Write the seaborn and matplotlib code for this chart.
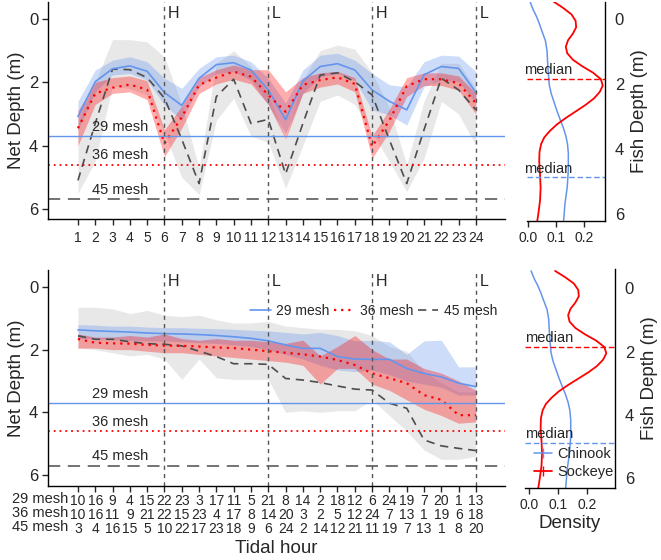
import numpy as np
import matplotlib
matplotlib.use("Agg")
import matplotlib.pyplot as plt
from matplotlib.lines import Line2D
import seaborn as sns

# ---- data ----
hours = list(range(1, 25))

# top panel: depth by tidal hour, per mesh size (median line + band)
top_29 = [3.08, 1.98, 1.57, 1.48, 1.65, 2.32, 2.73, 1.87, 1.44, 1.38, 1.61, 2.24,
          3.18, 1.96, 1.50, 1.41, 1.61, 2.24, 2.60, 2.87, 1.76, 1.50, 1.56, 2.32]
top_29_lo = [2.60, 1.61, 1.30, 1.19, 1.35, 1.87, 2.19, 1.56, 1.19, 1.14, 1.35, 1.87,
             2.66, 1.61, 1.14, 1.08, 1.30, 1.72, 2.08, 2.14, 1.35, 1.14, 1.17, 1.66]
top_29_hi = [3.50, 2.30, 1.77, 1.72, 1.93, 2.72, 3.19, 2.14, 1.72, 1.66, 1.93, 2.72,
             3.61, 2.35, 1.82, 1.72, 1.93, 2.87, 3.03, 3.35, 2.14, 1.93, 1.98, 2.66]

top_36 = [3.45, 2.35, 2.17, 2.07, 2.23, 3.93, 3.10, 2.08, 1.85, 1.66, 1.82, 2.40,
          2.93, 2.08, 1.93, 1.84, 2.05, 4.03, 3.20, 2.12, 1.90, 1.90, 2.03, 2.66]
top_36_lo = [2.90, 2.00, 1.85, 1.80, 1.95, 3.50, 2.75, 1.85, 1.60, 1.45, 1.60, 1.60,
             2.30, 1.85, 1.70, 1.65, 1.85, 3.70, 2.85, 1.85, 1.70, 1.70, 1.80, 2.35]
top_36_hi = [4.00, 2.70, 2.35, 2.30, 2.55, 4.35, 3.45, 2.35, 2.05, 1.90, 2.05, 2.70,
             3.80, 2.35, 2.15, 2.05, 2.30, 4.40, 3.55, 2.45, 2.10, 2.10, 2.25, 3.00]

top_45 = [5.10, 3.30, 1.58, 1.60, 1.85, 2.50, 3.80, 5.20, 2.45, 1.90, 3.30, 3.17,
          4.90, 3.30, 1.77, 1.70, 1.98, 2.40, 3.82, 5.20, 3.50, 1.87, 2.24, 2.87]
top_45_lo = [3.30, 2.00, 0.65, 0.65, 0.72, 1.20, 2.70, 4.70, 1.40, 1.00, 1.50, 2.40,
             3.80, 1.90, 1.00, 0.82, 0.95, 1.70, 2.80, 4.60, 2.60, 1.40, 1.40, 2.20]
top_45_hi = [5.50, 4.50, 2.10, 2.20, 2.40, 3.60, 5.00, 5.55, 3.20, 2.50, 3.70, 3.90,
             5.35, 4.00, 2.60, 2.40, 2.70, 3.60, 4.50, 5.45, 4.40, 2.60, 3.00, 4.00]

# bottom panel
bot_29 = [1.37, 1.40, 1.42, 1.44, 1.47, 1.49, 1.50, 1.52, 1.55, 1.59, 1.64, 1.72,
          1.85, 1.96, 1.96, 2.22, 2.30, 2.31, 2.31, 2.60, 2.76, 2.87, 3.07, 3.18]
bot_29_lo = [1.20, 1.22, 1.25, 1.25, 1.28, 1.30, 1.30, 1.32, 1.33, 1.35, 1.38, 1.40,
             1.45, 1.50, 1.45, 1.55, 1.72, 1.70, 1.75, 2.15, 1.72, 1.70, 2.55, 2.55]
bot_29_hi = [1.65, 1.65, 1.68, 1.70, 1.72, 1.72, 1.75, 1.78, 1.80, 1.85, 1.90, 2.00,
             2.15, 2.30, 2.50, 2.65, 2.70, 2.65, 2.80, 3.00, 3.10, 3.20, 3.45, 3.45]

bot_36 = [1.66, 1.78, 1.80, 1.81, 1.85, 1.87, 1.88, 1.90, 1.93, 1.95, 2.00, 2.05,
          2.10, 2.15, 2.22, 2.33, 2.49, 2.76, 2.91, 3.07, 3.45, 3.60, 4.09, 4.09]
bot_36_lo = [1.50, 1.60, 1.60, 1.55, 1.60, 1.50, 1.65, 1.70, 1.65, 1.70, 1.70, 1.75,
             1.80, 1.70, 2.20, 1.90, 1.55, 2.00, 2.30, 2.30, 2.60, 2.75, 3.00, 3.30]
bot_36_hi = [1.95, 1.95, 2.00, 2.00, 2.05, 2.10, 2.10, 2.15, 2.20, 2.25, 2.30, 2.35,
             2.40, 2.50, 3.10, 2.60, 2.60, 3.10, 3.30, 3.60, 3.90, 4.10, 4.35, 4.30]

bot_45 = [1.56, 1.67, 1.67, 1.75, 1.81, 1.83, 1.88, 2.05, 2.22, 2.45, 2.45, 2.47,
          2.92, 2.97, 3.05, 3.16, 3.26, 3.29, 3.71, 3.87, 4.88, 5.07, 5.15, 5.22]
bot_45_lo = [0.65, 0.65, 0.70, 0.85, 0.75, 0.90, 0.95, 0.90, 1.05, 1.15, 1.15, 1.10,
             1.25, 1.30, 1.35, 1.35, 1.40, 1.55, 1.90, 2.05, 2.70, 3.05, 3.35, 3.35]
bot_45_hi = [1.95, 2.00, 2.10, 2.20, 2.15, 2.30, 2.95, 2.30, 2.90, 2.95, 2.95, 2.95,
             4.00, 3.95, 4.00, 3.95, 3.95, 3.60, 4.10, 4.60, 5.20, 5.50, 5.50, 5.40]

# bottom panel x labels (sample counts per mesh)
n_29 = [10, 16, 9, 4, 15, 22, 23, 3, 17, 11, 5, 21, 8, 14, 2, 18, 12, 6, 24, 19, 7, 20, 1, 13]
n_36 = [10, 16, 11, 9, 21, 22, 15, 23, 4, 17, 8, 14, 20, 3, 2, 5, 12, 24, 7, 13, 1, 19, 6, 18]
n_45 = [3, 4, 16, 15, 5, 10, 22, 17, 23, 18, 9, 6, 24, 2, 14, 12, 21, 11, 19, 7, 13, 1, 8, 20]

mesh_names = ["29 mesh", "36 mesh", "45 mesh"]
mesh_depth = [3.7, 4.6, 5.7]
tide_hours = [6, 12, 18, 24]
tide_labels = ["H", "L", "H", "L"]

# fish depth densities
sockeye_depth = [-0.55, -0.35, -0.15, 0.05, 0.25, 0.45, 0.65, 0.85, 1.05, 1.25, 1.45,
                 1.65, 1.85, 2.05, 2.25, 2.45, 2.65, 2.85, 3.05, 3.25, 3.45, 3.65,
                 3.85, 4.1, 4.4, 4.8, 5.2, 5.6, 6.0, 6.35]
dens_sockeye = [0.090, 0.125, 0.155, 0.170, 0.172, 0.160, 0.143, 0.135, 0.140, 0.160,
                0.193, 0.232, 0.260, 0.267, 0.256, 0.235, 0.205, 0.170, 0.135, 0.103,
                0.078, 0.058, 0.047, 0.041, 0.040, 0.043, 0.045, 0.043, 0.037, 0.031]
chinook_depth = [-0.55, -0.3, -0.07, 0.15, 0.35, 0.66, 0.98, 1.5, 2.03, 2.3, 2.56,
                 2.82, 3.08, 3.35, 3.6, 3.85, 4.14, 4.66, 5.19, 5.7, 6.35]
dens_chinook = [0.007, 0.018, 0.031, 0.041, 0.049, 0.062, 0.068, 0.071, 0.076, 0.083,
                0.093, 0.103, 0.114, 0.126, 0.135, 0.141, 0.144, 0.144, 0.140, 0.132,
                0.126]
median_sockeye = 1.84
median_chinook = 4.88

BLUE = "#6495ED"
RED = "#FF0000"
GREY = "#4D4D4D"
DOT = (0, (1, 2.2))
DASH = (0, (5, 3.5))

sns.set_style("ticks")
plt.rcParams["font.family"] = ["Liberation Sans", "DejaVu Sans"]

W, H = 661, 560
fig = plt.figure(figsize=(W / 100, H / 100), dpi=100)


def box(l, t, r, b):
    return [l / W, 1 - b / H, (r - l) / W, (b - t) / H]


def depth_panel(ax, s29, s36, s45, bands, ylim):
    (l29, h29), (l36, h36), (l45, h45) = bands
    ax.fill_between(hours, l45, h45, color="#BEBEBE", alpha=0.35, lw=0)
    ax.fill_between(hours, l29, h29, color=BLUE, alpha=0.32, lw=0)
    ax.fill_between(hours, l36, h36, color=RED, alpha=0.32, lw=0)
    sns.lineplot(x=hours, y=s45, ax=ax, color=GREY, lw=1.2, linestyle=DASH, label="45 mesh")
    sns.lineplot(x=hours, y=s29, ax=ax, color=BLUE, lw=1.2, label="29 mesh")
    sns.lineplot(x=hours, y=s36, ax=ax, color=RED, lw=1.6, linestyle=DOT, label="36 mesh")
    if ax.get_legend() is not None:
        ax.get_legend().remove()
    ax.axhline(mesh_depth[0], color=BLUE, lw=1)
    ax.axhline(mesh_depth[1], color=RED, lw=1.3, linestyle=DOT)
    ax.axhline(mesh_depth[2], color=GREY, lw=1.1, linestyle=(0, (8, 5)))
    for name, d in zip(mesh_names, mesh_depth):
        ax.text(3.45, d - 0.07, name, ha="center", va="bottom", fontsize=10.5)
    for h, lab in zip(tide_hours, tide_labels):
        ax.axvline(h, color="#555555", lw=1, linestyle=(0, (3, 3)))
        ax.text(h + 0.2, -0.17, lab, ha="left", va="center", fontsize=11.5)
    ax.set_xlim(-0.73, 25.68)
    ax.set_ylim(*ylim)
    ax.set_yticks([0, 2, 4, 6])
    ax.set_xticks(hours)
    ax.set_ylabel("Net Depth (m)", fontsize=13.5, labelpad=3)
    ax.set_xlabel("")
    sns.despine(ax=ax)
    ax.tick_params(axis="y", labelsize=12, length=4, width=1, pad=3)
    ax.tick_params(axis="x", labelsize=10, length=4, width=1)
    for s in ax.spines.values():
        s.set_linewidth(1)
        s.set_color("black")


def density_panel(ax, ylim, xlim, show_legend):
    sns.lineplot(x=dens_chinook, y=chinook_depth, ax=ax, sort=False, estimator=None,
                 color=BLUE, lw=1.1)
    sns.lineplot(x=dens_sockeye, y=sockeye_depth, ax=ax, sort=False, estimator=None,
                 color=RED, lw=1.3)
    ax.axhline(median_sockeye, color=RED, lw=1, linestyle=(0, (4, 2)))
    ax.axhline(median_chinook, color=BLUE, lw=1, linestyle=(0, (4, 2)))
    ax.text(-0.014, median_sockeye - 0.05, "median", ha="left", va="bottom", fontsize=10.5)
    ax.text(-0.014, median_chinook - 0.05, "median", ha="left", va="bottom", fontsize=10.5)
    ax.set_xlim(*xlim)
    ax.set_ylim(*ylim)
    ax.set_xticks([0.0, 0.1, 0.2])
    ax.set_xticklabels(["0.0", "0.1", "0.2"])
    ax.set_yticks([0, 2, 4, 6])
    ax.yaxis.tick_right()
    ax.yaxis.set_label_position("right")
    ax.set_ylabel("Fish Depth (m)", fontsize=13.5, labelpad=5)
    sns.despine(ax=ax, left=True, right=False)
    ax.tick_params(axis="y", labelsize=12, length=4, width=1, pad=3)
    ax.tick_params(axis="x", labelsize=10, length=4, width=1, pad=3)
    for s in ax.spines.values():
        s.set_linewidth(1)
        s.set_color("black")
    if show_legend:
        ax.set_xlabel("Density", fontsize=13.5, labelpad=2)
        hs = [Line2D([], [], color=BLUE, lw=1.1, marker="|", markersize=7),
              Line2D([], [], color=RED, lw=1.3, marker="|", markersize=7)]
        ax.legend(hs, ["Chinook", "Sockeye"], loc="center left",
                  bbox_to_anchor=(0.03, 0.115), frameon=False, fontsize=10.5,
                  handlelength=1.3, handletextpad=0.3, labelspacing=0.25,
                  borderaxespad=0)
    else:
        ax.set_xlabel("")


# top row
ax1 = fig.add_axes(box(48, 2, 505, 219))
depth_panel(ax1, top_29, top_36, top_45,
            [(top_29_lo, top_29_hi), (top_36_lo, top_36_hi), (top_45_lo, top_45_hi)],
            (6.32, -0.54))
ax1.set_xticklabels([str(h) for h in hours])
ax1.tick_params(axis="x", pad=5)

ax2 = fig.add_axes(box(527, 2, 605, 221))
density_panel(ax2, (6.23, -0.53), (-0.0036, 0.275), False)

# bottom row
ax3 = fig.add_axes(box(48, 270, 505, 486))
depth_panel(ax3, bot_29, bot_36, bot_45,
            [(bot_29_lo, bot_29_hi), (bot_36_lo, bot_36_hi), (bot_45_lo, bot_45_hi)],
            (6.35, -0.54))
ax3.set_xticklabels([f"{a}\n{b}\n{c}" for a, b, c in zip(n_29, n_36, n_45)])
ax3.tick_params(axis="x", pad=1.5, labelsize=10)
for t in ax3.get_xticklabels():
    t.set_linespacing(1.0)
ax3.annotate("29 mesh\n36 mesh\n45 mesh", xy=(0.45, 0), xycoords=ax3.get_xaxis_transform(),
             xytext=(0, -4.4), textcoords="offset points", ha="right", va="top",
             fontsize=10.5, linespacing=1.0)
ax3.set_xlabel("Tidal hour", fontsize=13.5, labelpad=3)
leg_handles = [Line2D([], [], color=BLUE, lw=1.2),
               Line2D([], [], color=RED, lw=1.6, linestyle=DOT),
               Line2D([], [], color=GREY, lw=1.2, linestyle=DASH)]
ax3.legend(leg_handles, mesh_names, ncol=3, loc="center", bbox_to_anchor=(0.713, 0.81),
           frameon=False, fontsize=10, handlelength=1.45, handletextpad=0.4,
           columnspacing=0.35, borderaxespad=0)

ax4 = fig.add_axes(box(525, 269, 615, 488))
density_panel(ax4, (6.3, -0.61), (-0.014, 0.297), True)

fig.savefig("out.png", dpi=100)
